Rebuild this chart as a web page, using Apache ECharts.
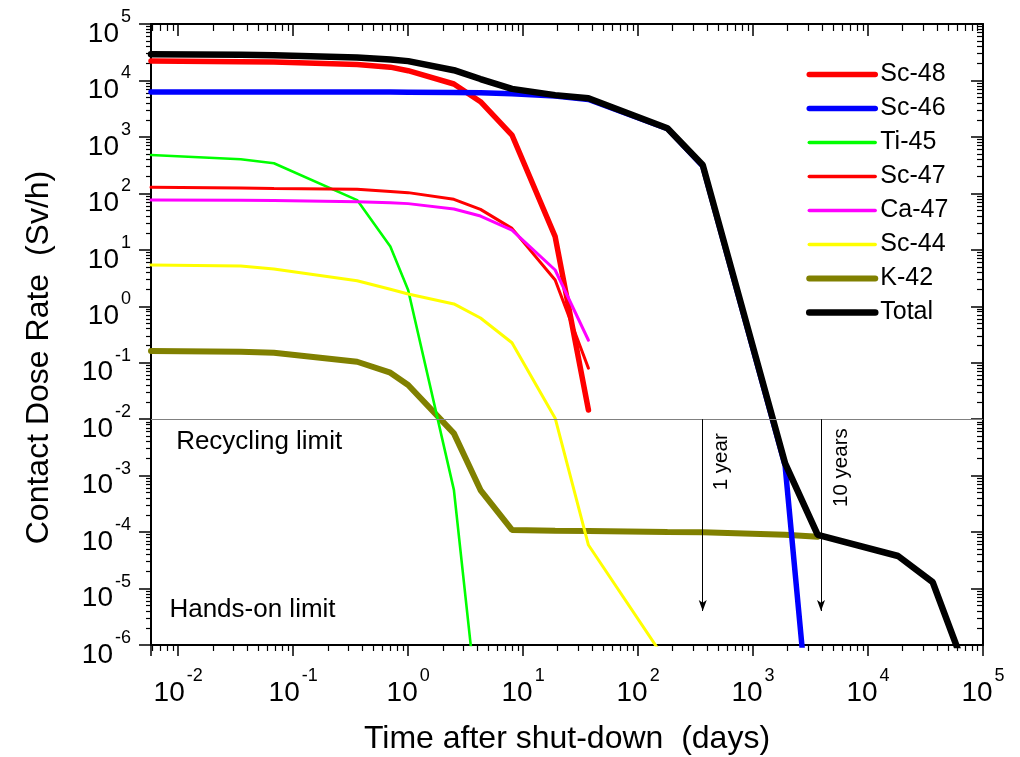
<!DOCTYPE html>
<html><head><meta charset="utf-8">
<script src="https://cdn.jsdelivr.net/npm/echarts@6/dist/echarts.min.js"></script>
<style>html,body{margin:0;padding:0;background:#fff}#c{width:1020px;height:757px}</style>
</head><body><div id="c"></div>
<script>
// ---- data ----
const days  = [0.0058, 0.035, 0.068, 0.36, 0.7, 1, 2.5, 4.26, 8, 19, 37, 180, 365, 1900, 3650, 18250, 36500, 73000];
const sc48  = [22100, 21500, 21200, 19200, 17200, 14900, 8650, 4200, 1080, 17.1, 0.0145];
const sc46  = [6240, 6240, 6240, 6230, 6220, 6200, 6120, 6030, 5800, 5300, 4600, 1400, 305, 1.5e-3, 1e-9];
const ti45  = [478, 401, 341, 76, 11.4, 1.94, 5.6e-4, 2.5e-8];
const sc47  = [128, 124, 122, 118, 108, 103, 78.5, 52, 24, 2.92, 0.080];
const ca47  = [76.2, 75.3, 74.5, 71.1, 68, 65.8, 52.8, 39.7, 22.4, 4.39, 0.25];
const sc44  = [5.38, 5.17, 4.57, 2.84, 2.0, 1.65, 1.10, 0.62, 0.226, 0.0104, 5.9e-5, 4.8e-7];
const k42   = [0.161, 0.157, 0.150, 0.104, 0.0666, 0.0403, 5.6e-3, 5.56e-4, 1.09e-4, 1.06e-4, 1.05e-4, 1.0e-4, 9.9e-5, 9.0e-5, 8.3e-5];
const total = [29000, 28400, 28000, 25600, 23600, 22000, 15200, 10600, 7100, 5500, 4830, 1420, 318, 1.65e-3, 8.9e-5, 3.77e-5, 1.3e-5, 3e-7];

const seriesNames = ['Sc-48', 'Sc-46', 'Ti-45', 'Sc-47', 'Ca-47', 'Sc-44', 'K-42', 'Total'];
const seriesData  = [sc48, sc46, ti45, sc47, ca47, sc44, k42, total];

// axes / ticks
const xMin = 0.0058, xMax = 1e5;
const yMin = 1e-6, yMax = 1e5;
const xDecades = [-3, -2, -1, 0, 1, 2, 3, 4];
const yDecades = [-6, -5, -4, -3, -2, -1, 0, 1, 2, 3, 4];
const minorSteps = [2, 3, 4, 5, 6, 7, 8, 9];

// annotations
const limitValues = [1e-2, 1e-5];
const limitLabels = ['Recycling limit', 'Hands-on limit'];
const limitLabelAt = [[0.0095, 3.94e-3], [0.0083, 4.28e-6]];
const arrowDays = [365, 3900];
const arrowTop = 1e-2, arrowBottom = 4.0e-6;
const arrowLabels = ['1 year', '10 years'];
const arrowLabelAt = [[533, 1.76e-3], [5890, 1.39e-3]];

// ---- styles ----
const FONT = "'Liberation Sans', Arial, sans-serif";
const styles = {
  'Sc-48': { color: '#ff0000', width: 5.5, z: 3 },
  'Sc-46': { color: '#0000ff', width: 5.5, z: 3 },
  'Ti-45': { color: '#00ff00', width: 2.6, z: 3 },
  'Sc-47': { color: '#ff0000', width: 3, z: 3 },
  'Ca-47': { color: '#ff00ff', width: 3, z: 3 },
  'Sc-44': { color: '#ffff00', width: 3, z: 3 },
  'K-42':  { color: '#808000', width: 6, z: 2 },
  'Total': { color: '#000000', width: 6.5, z: 4 }
};

function minorValues(decades) {
  const out = [];
  decades.forEach(e => minorSteps.forEach(m => out.push(m * Math.pow(10, e))));
  return out;
}
const minorX = minorValues(xDecades).filter(v => v > xMin && v < xMax);
const minorY = minorValues(yDecades).filter(v => v > yMin && v < yMax);

function powLabel(v) {
  const l = Math.log10(v), e = Math.round(l);
  if (Math.abs(l - e) > 1e-6) return '';
  return '{b|10}{s|' + e + '}';
}
const rich = {
  b: { fontSize: 28, lineHeight: 40, verticalAlign: 'bottom', fontFamily: FONT, color: '#000' },
  s: { fontSize: 18, lineHeight: 18, verticalAlign: 'top', fontFamily: FONT, color: '#000', padding: [0, 0, 0, 2] }
};

const lineAxis = { onZero: false, lineStyle: { color: '#000', width: 2 } };
function axisBase(min, max, split, pos) {
  return { type: 'log', logBase: 10, min, max, splitNumber: split, position: pos,
    splitLine: { show: false }, minorTick: { show: false }, minorSplitLine: { show: false },
    axisLine: lineAxis, axisPointer: { show: false } };
}
function majorAxis(min, max, split, pos, inside, len) {
  return Object.assign(axisBase(min, max, split, pos), {
    axisTick: { show: true, inside, length: len, lineStyle: { color: '#000', width: 1.5 } },
    axisLabel: { show: false }
  });
}
function minorAxis(min, max, split, pos, inside, len, vals) {
  return Object.assign(axisBase(min, max, split, pos), {
    axisLine: { show: false, onZero: false },
    axisTick: { show: true, inside, length: len, customValues: vals, lineStyle: { color: '#000', width: 1.2 } },
    axisLabel: { show: false }
  });
}

const xMain = majorAxis(xMin, xMax, 7, 'bottom', false, 11);
xMain.axisLabel = { show: true, formatter: powLabel, margin: 22, rich, color: '#000', hideOverlap: false };
xMain.name = 'Time after shut-down  (days)';
xMain.nameLocation = 'middle';
xMain.nameGap = 78;
xMain.nameTextStyle = { fontSize: 32, fontFamily: FONT, color: '#000' };

const yMain = majorAxis(yMin, yMax, 11, 'left', false, 12);
yMain.interval = 1;
yMain.axisLabel = { show: true, formatter: powLabel, margin: 20, rich, color: '#000', padding: [8, 0, 0, 0], hideOverlap: false, interval: 0 };
yMain.name = 'Contact Dose Rate  (Sv/h)';
yMain.nameLocation = 'middle';
yMain.nameRotate = 90;
yMain.nameGap = 96;
yMain.nameTextStyle = { fontSize: 32, fontFamily: FONT, color: '#000', padding: [0, 46, 0, 0] };

const yRight = majorAxis(yMin, yMax, 11, 'right', true, 12);
yRight.interval = 1;

const series = seriesNames.map((name, k) => {
  const st = styles[name];
  return {
    name, type: 'line', symbol: 'none', showSymbol: false, silent: true, z: st.z,
    clip: true,
    data: days.map((d, i) => [d, seriesData[k][i]]).filter(p => p[1] != null),
    lineStyle: { color: st.color, width: st.width, cap: 'round' },
    itemStyle: { color: st.color }
  };
});

series.push({
  name: '__limits', type: 'line', data: [], z: 1, silent: true,
  markLine: {
    silent: true, animation: false, symbol: 'none', label: { show: false },
    lineStyle: { color: '#808080', width: 1, type: 'solid' },
    emphasis: { disabled: true },
    data: limitValues.map(v => ({ yAxis: v }))
  }
});
series.push({
  name: '__notes', type: 'line', data: [], z: 5, silent: true,
  markLine: {
    silent: true, animation: false, symbol: ['none', 'arrow'], symbolSize: [6, 11],
    label: { show: false }, emphasis: { disabled: true },
    lineStyle: { color: '#000', width: 1, type: 'solid' },
    data: arrowDays.map(d => [{ coord: [d, arrowTop] }, { coord: [d, arrowBottom] }])
  },
  markPoint: {
    silent: true, animation: false, symbol: 'circle', symbolSize: 1,
    itemStyle: { color: 'rgba(0,0,0,0)' }, emphasis: { disabled: true },
    data: limitLabels.map((t, i) => ({
      name: t, coord: limitLabelAt[i],
      label: { show: true, position: 'right', distance: 0, formatter: '{b}', fontSize: 26, fontFamily: FONT, color: '#000' }
    })).concat(arrowLabels.map((t, i) => ({
      name: t, coord: arrowLabelAt[i],
      label: { show: true, position: 'inside', rotate: 90, formatter: '{b}', fontSize: 20.5, fontFamily: FONT, color: '#000' }
    })))
  }
});

const chart = echarts.init(document.getElementById('c'), null, { renderer: 'canvas' });
chart.setOption({
  animation: false,
  backgroundColor: '#fff',
  textStyle: { fontFamily: FONT },
  grid: { left: 151, right: 37, top: 24, bottom: 112, containLabel: false, outerBoundsMode: 'none' },
  legend: {
    data: seriesNames.map(n => ({
      name: n,
      itemStyle: { opacity: 0 },
      lineStyle: { width: Math.max(styles[n].width, 3.4), color: styles[n].color, cap: 'round' }
    })),
    orient: 'vertical', left: 801, top: 57,
    itemWidth: 66, itemHeight: 26, itemGap: 9, selectedMode: false,
    itemStyle: { opacity: 0 },
    textStyle: { fontSize: 25, fontFamily: FONT, color: '#000' }
  },
  xAxis: [
    xMain,
    minorAxis(xMin, xMax, 7, 'bottom', false, 6, minorX),
    majorAxis(xMin, xMax, 7, 'top', true, 12),
    minorAxis(xMin, xMax, 7, 'top', true, 7, minorX)
  ],
  yAxis: [
    yMain,
    minorAxis(yMin, yMax, 11, 'left', false, 5, minorY),
    yRight,
    minorAxis(yMin, yMax, 11, 'right', true, 6, minorY)
  ],
  series
});
</script>
</body></html>
